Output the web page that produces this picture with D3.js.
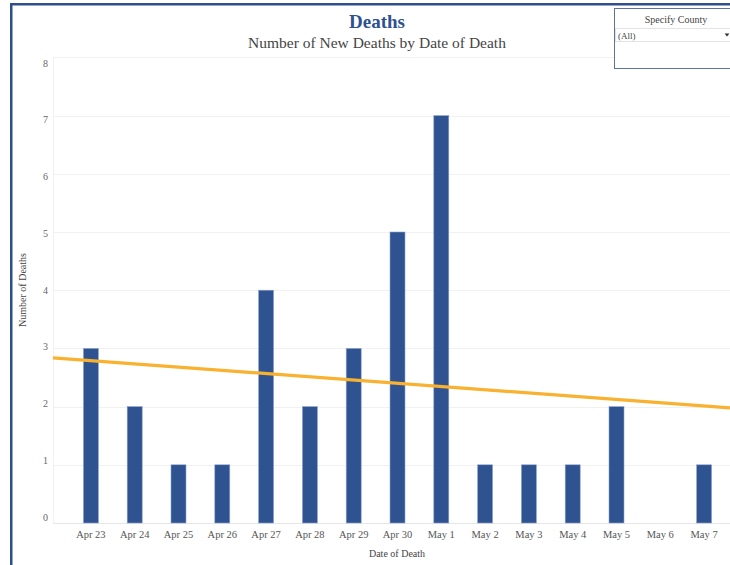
<!DOCTYPE html>
<html>
<head>
<meta charset="utf-8">
<script src="https://cdn.jsdelivr.net/npm/d3@7/dist/d3.min.js"></script>
<style>
  html, body { margin: 0; padding: 0; background: #fff; }
  svg { display: block; font-family: "Liberation Serif", "Times New Roman", serif; }
</style>
</head>
<body>
<svg id="chart" width="730" height="565"></svg>
<script>
// Daily new deaths by date of death
const dates = ["Apr 23", "Apr 24", "Apr 25", "Apr 26", "Apr 27", "Apr 28", "Apr 29", "Apr 30",
               "May 1", "May 2", "May 3", "May 4", "May 5", "May 6", "May 7"];
const deaths = [3, 2, 1, 1, 4, 2, 3, 5, 7, 1, 1, 1, 2, 0, 1];
const yTicks = [0, 1, 2, 3, 4, 5, 6, 7, 8];
// Linear trend: value on the first day and change per day
const trendStart = [2.79];
const trendSlope = [-0.0556];

const svg = d3.select("#chart");
const W = 730, H = 565;
const plot = { left: 53, right: 730, top: 58, bottom: 523 };

// Dashboard frame
svg.append("rect").attr("x", 10).attr("y", 3).attr("width", 2.5).attr("height", H).attr("fill", "#2f4f8c");
svg.append("rect").attr("x", 10).attr("y", 3).attr("width", W).attr("height", 2.5).attr("fill", "#2f4f8c");

// Scales
const x = d3.scaleBand().domain(dates).range([69, 726]).paddingInner(0.66).paddingOuter(0.33);
const y = d3.scaleLinear().domain([0, 8]).range([plot.bottom, plot.bottom - 8 * 58.2]);
// Tick labels sit on a slightly compressed scale relative to the gridlines
const yLabel = d3.scaleLinear().domain([0, 8]).range([517, 63]);

// Gridlines
svg.append("g").selectAll("line").data(yTicks).join("line")
  .attr("x1", plot.left).attr("x2", plot.right)
  .attr("y1", d => Math.round(y(d)) + 0.5).attr("y2", d => Math.round(y(d)) + 0.5)
  .attr("stroke", d => d === 0 ? "#e6e6e6" : "#f1f1f1").attr("stroke-width", 1);
svg.append("line").attr("x1", plot.left + 0.5).attr("x2", plot.left + 0.5)
  .attr("y1", y(8)).attr("y2", plot.bottom).attr("stroke", "#f1f1f1");

// Y axis labels
const yAxis = d3.axisLeft(yLabel).tickValues(yTicks).tickSize(0).tickPadding(0).tickFormat(d3.format("d"));
const gy = svg.append("g").attr("transform", `translate(48,0)`).call(yAxis);
gy.select(".domain").remove();
gy.selectAll("text").attr("font-family", "Liberation Serif, serif").attr("font-size", 10).attr("fill", "#666");

// X axis labels
const xAxis = d3.axisBottom(x).tickSize(0).tickPadding(0);
const gx = svg.append("g").attr("transform", `translate(0,${plot.bottom + 8})`).call(xAxis);
gx.select(".domain").remove();
gx.selectAll("text").attr("font-family", "Liberation Serif, serif").attr("font-size", 10.5).attr("fill", "#555");

// Bars
const barW = 15;
svg.append("g").selectAll("rect").data(deaths.map((v, i) => ({ date: dates[i], v })))
  .join("rect")
  .attr("x", d => x(d.date) + x.bandwidth() / 2 - barW / 2)
  .attr("width", barW)
  .attr("y", d => y(d.v))
  .attr("height", d => y(0) - y(d.v))
  .attr("fill", "#2f5290")
  .attr("stroke", "#8ea6d0")
  .attr("stroke-width", 0.6);

// Trend line across the plot width
const step = x.step();
const c0 = x(dates[0]) + x.bandwidth() / 2;
const trendAt = px => trendStart[0] + trendSlope[0] * (px - c0) / step;
svg.append("line")
  .attr("x1", plot.left).attr("y1", y(trendAt(plot.left)))
  .attr("x2", plot.right).attr("y2", y(trendAt(plot.right)))
  .attr("stroke", "#f9b130").attr("stroke-width", 3.2);

// Titles
svg.append("text").attr("x", 377).attr("y", 28).attr("text-anchor", "middle")
  .attr("font-size", 19).attr("font-weight", "bold").attr("fill", "#2e5192").text("Deaths");
svg.append("text").attr("x", 377).attr("y", 48).attr("text-anchor", "middle")
  .attr("font-size", 15.5).attr("fill", "#444").text("Number of New Deaths by Date of Death");

// Axis titles
svg.append("text").attr("x", 397).attr("y", 557).attr("text-anchor", "middle")
  .attr("font-size", 10).attr("fill", "#444").text("Date of Death");
svg.append("text").attr("transform", "translate(26,290) rotate(-90)").attr("text-anchor", "middle")
  .attr("font-size", 10).attr("fill", "#444").text("Number of Deaths");

// County filter
const f = svg.append("g");
f.append("rect").attr("x", 614.5).attr("y", 8.5).attr("width", 130).attr("height", 60)
  .attr("fill", "#fff").attr("stroke", "#5a74a8").attr("stroke-width", 1);
f.append("text").attr("x", 676).attr("y", 23).attr("text-anchor", "middle")
  .attr("font-size", 10).attr("fill", "#444").text("Specify County");
f.append("rect").attr("x", 615.5).attr("y", 28.5).attr("width", 120).attr("height", 13)
  .attr("fill", "#fff").attr("stroke", "#e4e4e4");
f.append("text").attr("x", 618).attr("y", 38.5).attr("font-size", 9).attr("fill", "#444").text("(All)");
f.append("path").attr("d", "M724.5,33.5 L729.5,33.5 L727,36.5 Z").attr("fill", "#333");
</script>
</body>
</html>
